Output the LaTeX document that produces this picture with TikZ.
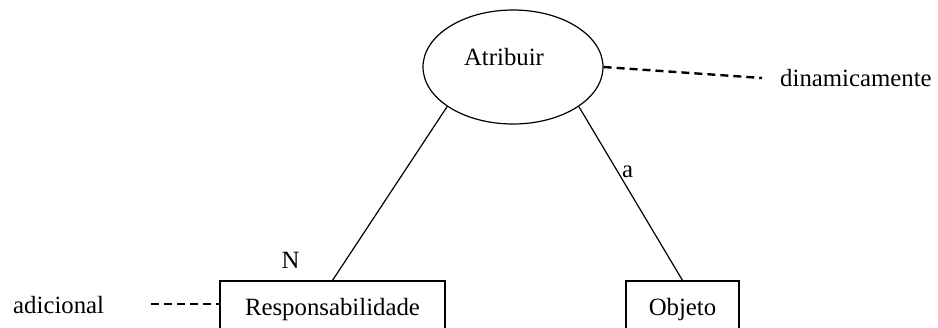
\documentclass[tikz,border=0pt]{standalone}
\usepackage{fontspec}
\setmainfont{Liberation Serif}
\usetikzlibrary{shapes, positioning}

\begin{document}
\begin{tikzpicture}[x=1pt, y=-1pt,
        relation/.style={ellipse, draw, line width=1.2pt, inner sep=0pt, minimum width=180pt, minimum height=114pt},
        entity/.style={rectangle, draw, line width=1.2pt, minimum height=51pt, text height=17pt, text depth=0pt},
        tag/.style={font=\fontsize{24.8}{30}\selectfont, inner sep=0pt},
        link/.style={line width=1.2pt},
        note/.style={line width=2.4pt, dash pattern=on 8pt off 5pt}
    ]
        \useasboundingbox (0,0) rectangle (938,327);
        \tikzset{every node/.append style={font=\fontsize{24.8}{30}\selectfont}}

        % Relationship and entities
        \node[relation] (atribuir) at (513,67) {};
        \node[tag, anchor=base] (atribuir_txt) at (504,65) {Atribuir};
        \node[entity, minimum width=225pt] (responsabilidade) at (332.5,306.5) {Responsabilidade};
        \node[entity, minimum width=113pt] (objeto) at (682.5,306.5) {Objeto};

        % Side notes
        \node[tag, anchor=base west] (adicional) at (13,313) {adicional};
        \node[tag, anchor=base west] (dinamicamente) at (780,86) {dinamicamente};
        \coordinate (adicional_end) at (151,304);
        \coordinate (dinamicamente_end) at (762,78);

        % Cardinalities
        \node[tag] (card_n) at (290.5,260) {N};
        \node[tag] (card_a) at (627.5,172) {a};

        % Connectors
        \draw[link] (atribuir.211.6) -- (responsabilidade.north);
        \draw[link] (atribuir.-31.6) -- (objeto.north);
        \draw[note] (atribuir.east) -- (dinamicamente_end);
        \draw[note] (adicional_end) -- (adicional_end -| responsabilidade.west);
    \end{tikzpicture}
\end{document}
